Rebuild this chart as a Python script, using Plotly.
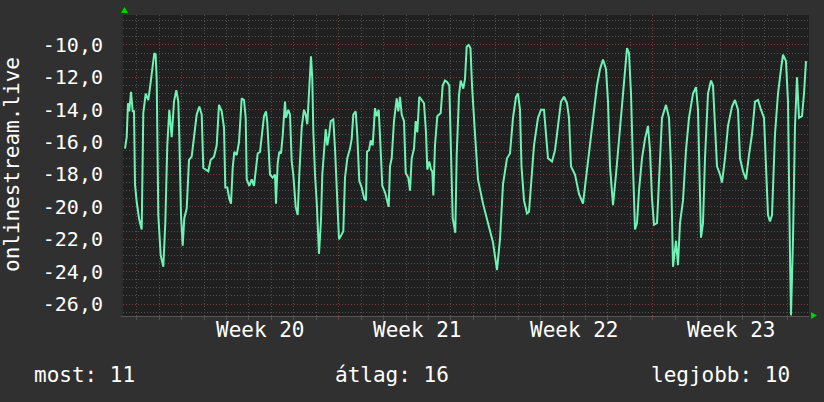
import plotly.graph_objects as go

# ---- data (time in days from the start of week 20, value) ----
week_labels = ["Week 20", "Week 21", "Week 22", "Week 23"]
week_starts = [0, 7, 14, 21]
y_ticks = [-10, -12, -14, -16, -18, -20, -22, -24, -26]
y_ticktext = ["-10,0", "-12,0", "-14,0", "-16,0", "-18,0", "-20,0", "-22,0", "-24,0", "-26,0"]
legend_items = ["most: 11", "átlag: 16", "legjobb: 10"]

px_pos = [
    125.0, 126.7, 128.0, 129.3, 131.0, 132.7, 134.0, 135.0, 136.7, 139.0, 141.7, 143.3, 145.7, 148.3,
    150.7, 152.3, 154.3, 155.7, 156.7, 158.3, 160.7, 163.3, 165.3, 167.3, 169.3, 171.7, 174.0, 176.3,
    178.3, 179.3, 181.0, 182.7, 184.3, 186.7, 189.0, 191.7, 194.0, 196.7, 199.3, 201.7, 203.3, 205.7,
    208.3, 210.7, 214.0, 216.7, 219.0, 221.7, 224.0, 225.3, 227.3, 229.3, 231.0, 232.7, 234.3, 236.7,
    239.0, 241.7, 244.0, 245.7, 246.7, 249.3, 251.7, 254.0, 255.7, 257.7, 260.0, 262.3, 264.0, 266.0,
    267.3, 270.0, 272.7, 275.0, 276.0, 277.7, 279.3, 281.0, 282.7, 285.0, 286.0, 288.3, 290.0, 291.7,
    293.3, 295.7, 297.7, 299.3, 301.7, 304.0, 305.7, 307.3, 309.0, 310.0, 311.0, 312.3, 313.3, 315.0,
    316.7, 319.0, 321.0, 322.3, 324.0, 325.7, 327.3, 329.0, 330.7, 333.3, 335.0, 336.7, 339.0, 341.7,
    343.3, 345.0, 347.3, 350.0, 351.7, 353.3, 355.7, 357.3, 359.3, 361.7, 364.3, 366.0, 367.0, 369.0,
    370.7, 372.7, 375.0, 376.7, 378.7, 380.0, 382.3, 385.0, 387.3, 388.7, 390.0, 391.7, 394.0, 396.7,
    398.3, 400.0, 401.7, 404.0, 405.7, 408.3, 410.0, 411.7, 414.0, 415.7, 417.3, 419.3, 421.7, 424.0,
    426.0, 427.3, 429.3, 431.0, 432.3, 433.3, 435.0, 437.3, 440.7, 442.7, 445.0, 447.3, 449.3, 450.7,
    452.7, 455.3, 456.7, 459.0, 460.7, 463.3, 465.0, 466.7, 468.7,
    470.5, 472, 475, 478, 483, 488, 493, 497, 500, 503, 507, 510, 513, 516, 518, 520, 521.5, 524, 527,
    529, 531, 534, 538, 541, 544, 546, 548, 552, 555, 558, 561, 564, 567, 569, 571, 575, 579, 583, 586,
    590, 594, 597, 600, 603, 606, 608, 610, 613, 616, 619, 622, 625, 627, 629, 631, 633, 635, 637, 639,
    642, 645, 648, 650, 652, 654, 657, 659, 662, 666, 669, 671, 673, 676, 678, 680, 683, 686, 689, 693,
    696, 698, 699.5, 701, 703, 705, 708, 711, 713, 715, 717, 720, 722, 725, 728, 732, 735, 738, 740,
    743, 746, 749, 752, 755, 758, 761, 764, 766, 768, 770, 772, 775, 778, 781, 783, 786, 788, 790, 791,
    793, 795, 797, 799, 802, 804, 806,
]
values = [
    -16.4, -15.7, -13.6, -14.1, -12.9, -14.1, -14.1, -18.6, -19.7, -20.7, -21.4, -14.2, -13.0, -13.4,
    -12.3, -11.4, -10.5, -10.6, -12.2, -20.5, -23.0, -23.7, -21.0, -16.2, -14.0, -15.7, -13.5, -12.8,
    -13.5, -15.6, -20.5, -22.4, -20.7, -20.1, -17.1, -16.9, -15.8, -14.3, -13.8, -14.3, -17.6, -17.7,
    -17.8, -17.1, -16.9, -16.2, -13.7, -14.1, -15.1, -18.8, -18.8, -19.5, -19.8, -17.6, -16.6, -16.8,
    -16.0, -13.3, -13.4, -14.5, -18.3, -18.7, -18.3, -18.7, -17.8, -16.7, -16.6, -15.1, -14.4, -14.1,
    -14.8, -18.0, -18.2, -18.0, -19.8, -17.3, -16.6, -16.7, -15.6, -13.5, -14.5, -14.0, -14.3, -17.2,
    -18.0, -20.0, -20.5, -18.0, -15.1, -14.0, -14.3, -14.9, -13.1, -11.9, -10.7, -12.1, -15.3, -18.0,
    -19.7, -22.9, -20.8, -18.0, -16.5, -15.2, -16.2, -15.6, -14.7, -14.6, -16.4, -18.6, -22.0, -21.7,
    -21.5, -18.2, -17.0, -16.4, -15.8, -14.3, -14.1, -15.6, -18.4, -18.8, -19.5, -19.6, -16.6, -16.5,
    -15.9, -16.2, -13.9, -14.4, -14.0, -15.6, -18.7, -19.1, -19.7, -20.0, -17.5, -17.0, -14.7, -13.3,
    -14.1, -13.2, -14.3, -14.7, -17.9, -18.2, -19.0, -17.0, -16.4, -14.7, -15.4, -13.2, -13.4, -13.6,
    -15.4, -17.7, -17.2, -17.7, -17.8, -19.3, -16.2, -14.4, -14.2, -12.5, -12.2, -12.3, -12.5, -16.6,
    -20.7, -21.6, -16.8, -13.1, -12.2, -12.7, -12.1, -10.1, -10.0,
    -10.2, -12.5, -15.5, -18.3, -19.8, -21.0, -22.2, -23.9, -22.0, -18.6, -17.0, -16.7, -14.5, -13.2,
    -13.0, -14.0, -17.5, -19.6, -20.4, -20.3, -18.5, -16.2, -14.5, -14.0, -14.0, -15.8, -17.0, -17.2,
    -16.5, -15.0, -13.5, -13.2, -13.6, -14.5, -17.5, -18.0, -19.2, -19.8, -18.2, -16.4, -14.0, -12.5,
    -11.5, -10.9, -11.5, -13.5, -17.5, -19.9, -18.0, -16.0, -13.8, -11.5, -10.2, -10.5, -13.0, -17.5,
    -21.4, -21.0, -19.0, -17.0, -15.8, -15.0, -16.5, -19.5, -21.1, -21.0, -18.0, -14.5, -13.7, -14.5,
    -17.5, -23.7, -22.1, -23.6, -21.0, -19.6, -16.5, -14.5, -13.0, -12.6, -14.0, -18.0, -21.9, -21.0,
    -17.0, -13.0, -12.2, -12.5, -15.0, -17.5, -18.0, -18.5, -17.0, -15.0, -13.8, -13.4, -14.0, -17.0,
    -17.8, -18.3, -16.8, -15.5, -13.5, -13.4, -14.0, -14.5, -17.5, -20.5, -20.9, -20.5, -15.5, -13.0,
    -11.5, -10.6, -11.0, -13.5, -23.0, -26.7, -22.0, -15.0, -12.0, -14.5, -14.4, -13.0, -11.0,
]

# time axis (days from start of Week 20), derived from the read positions
WEEK0_PX = 181.7
PX_PER_DAY = 22.43
days = [(p - WEEK0_PX) / PX_PER_DAY for p in px_pos]

# ---- layout geometry ----
W_PX, H_PX = 824, 402
L, R, T, B = 123, 809, 15, 316
PW, PH = R - L, B - T


def pxx(p):
    return (p - L) / PW


def pxy(p):
    return (B - p) / PH


X_RANGE = [(L - WEEK0_PX) / PX_PER_DAY, (R - WEEK0_PX) / PX_PER_DAY]
Y_RANGE = [-26.74, -8.15]

FONT = "DejaVu Sans Mono"
TXT = "#ffffff"
RED = "#7a3c3c"
GRAY = "#505050"

fig = go.Figure()
fig.add_trace(go.Scatter(
    x=days, y=values, mode="lines",
    line=dict(color="#6ef2b5", width=2),
    hoverinfo="skip", showlegend=False,
))

fig.update_layout(
    width=W_PX, height=H_PX,
    margin=dict(l=L, r=W_PX - R, t=T, b=H_PX - B, pad=0),
    paper_bgcolor="#303030",
    plot_bgcolor="#202020",
    font=dict(family=FONT, color=TXT, size=21),
    showlegend=False,
)

fig.update_xaxes(
    range=X_RANGE, showticklabels=False,
    tickmode="array", tickvals=week_starts,
    showgrid=True, gridcolor=RED, griddash="1px,2px", gridwidth=1,
    ticks="outside", ticklen=3, tickcolor=RED,
    minor=dict(dtick=1, tick0=0, showgrid=True, gridcolor=GRAY, griddash="1px,2px",
               ticks="outside", ticklen=3, tickcolor=GRAY),
    showline=True, linecolor="#555555", linewidth=1,
    zeroline=False, fixedrange=True,
)
fig.update_yaxes(
    range=Y_RANGE, tickmode="array", tickvals=y_ticks, ticktext=y_ticktext,
    tickfont=dict(size=20, family=FONT, color=TXT),
    showgrid=True, gridcolor=RED, griddash="1px,2px", gridwidth=1,
    minor=dict(dtick=0.5, tick0=-10, showgrid=True, gridcolor=GRAY, griddash="1px,2px"),
    ticks="", ticklabelstandoff=14,
    showline=True, linecolor="#2c2c2c", linewidth=2,
    zeroline=False, fixedrange=True,
)

annotations = []
for lbl, ws in zip(week_labels, week_starts):
    annotations.append(dict(
        x=ws + 3.5, xref="x", y=pxy(330), yref="paper",
        text=lbl, showarrow=False, xanchor="center", yanchor="middle",
        font=dict(size=21, family=FONT, color=TXT),
    ))

annotations.append(dict(
    x=pxx(12), xref="paper", y=pxy(165), yref="paper",
    text="onlinestream.live", textangle=-90, showarrow=False,
    xanchor="center", yanchor="middle",
    font=dict(size=21, family=FONT, color=TXT),
))

leg_pos = [(32, "left"), (333, "left"), (792, "right")]
for txt, (xp, anc) in zip(legend_items, leg_pos):
    annotations.append(dict(
        x=pxx(xp), xref="paper", y=pxy(374.5), yref="paper",
        text=txt, showarrow=False, xanchor=anc, yanchor="middle",
        font=dict(size=21, family=FONT, color=TXT),
    ))
fig.update_layout(annotations=annotations)

# green axis arrows
up = "M {a},{b} L {c},{b} L {d},{e} Z".format(
    a=pxx(121), c=pxx(128), b=pxy(13), d=pxx(124.5), e=pxy(7))
right = "M {a},{b} L {a},{c} L {d},{e} Z".format(
    a=pxx(811), b=pxy(312), c=pxy(319), d=pxx(817), e=pxy(315.5))
fig.update_layout(shapes=[
    dict(type="path", path=up, xref="paper", yref="paper",
         fillcolor="#00d000", line=dict(width=0), layer="above"),
    dict(type="path", path=right, xref="paper", yref="paper",
         fillcolor="#00d000", line=dict(width=0), layer="above"),
])

fig.write_html("out.html")
